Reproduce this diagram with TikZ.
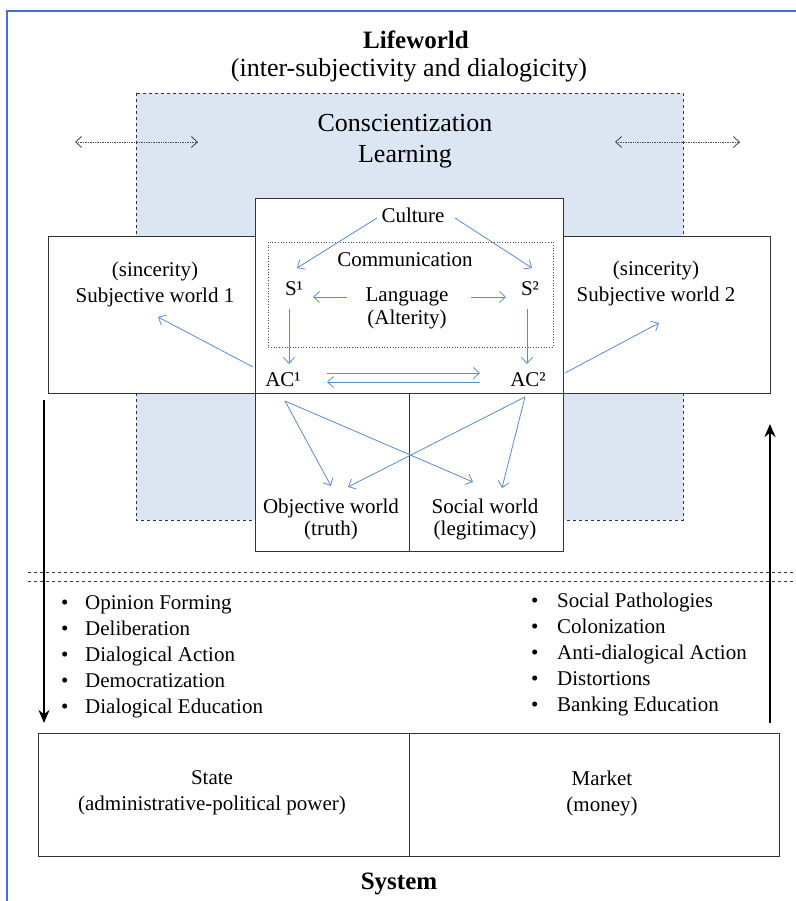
\documentclass[tikz,border=0pt]{standalone}
\usepackage{fontspec}
\setmainfont{Liberation Serif}
\usetikzlibrary{arrows.meta, positioning}

\definecolor{lifeblue}{RGB}{220,230,242}
\definecolor{flowblue}{RGB}{92,139,204}
\definecolor{frameblue}{RGB}{68,114,196}

\tikzset{
  txt/.style={font=\fontsize{21}{23}\selectfont, align=center, inner sep=1pt},
  two/.style={txt, font=\fontsize{21}{26}\selectfont},
  head/.style={font=\bfseries\fontsize{25}{28}\selectfont, inner sep=1pt},
  wbox/.style={draw=black!80, fill=white, line width=0.9pt},
  flow/.style={draw=flowblue, line width=0.8pt, -{Straight Barb[length=6pt,width=11pt]}},
  swing/.style={draw=black!70, densely dotted, line width=0.7pt,
    {Straight Barb[length=6pt,width=11pt,line width=0.9pt]}-{Straight Barb[length=6pt,width=11pt,line width=0.9pt]}},
  force/.style={draw=black, line width=2.8pt, -{Stealth[length=13pt,width=11pt]}},
  item/.style={font=\fontsize{21}{23}\selectfont, inner sep=1pt, anchor=base west}
}

\begin{document}
\begin{tikzpicture}[x=1pt, y=-1pt]
  \useasboundingbox (0,0) rectangle (795,901);
  % frame
  \draw[frameblue, line width=1.2pt] (7,901) -- (7,11) -- (800,11);

  % lifeworld area
  \draw[fill=lifeblue, draw=black!80, dashed, line width=0.7pt] (136,93) rectangle (683,520);
  \draw[wbox] (48,236) rectangle (255,393);
  \draw[wbox] (563,236) rectangle (770,393);
  \draw[wbox] (255,198) rectangle (563,393);
  \draw[wbox] (255,393) rectangle (409,551);
  \draw[wbox] (409,393) rectangle (563,551);
  \draw[black!70, dotted, line width=0.7pt] (268,242) rectangle (553,347);

  \node[head] (life) at (416,40) {Lifeworld};
  \node[txt, font=\fontsize{26}{29}\selectfont] (inter) at (409,70) {(inter-subjectivity and dialogicity)};
  \node[txt, font=\fontsize{26}{31}\selectfont] (consc) at (405,141) {Conscientization\\Learning};

  \coordinate (sl1) at (75,142);
  \coordinate (sl2) at (198,142);
  \coordinate (sr1) at (615,142);
  \coordinate (sr2) at (740,142);
  \draw[swing] (sl1) -- (sl2);
  \draw[swing] (sr1) -- (sr2);

  \node[txt] (cult) at (413,215) {Culture};
  \node[txt] (comm) at (405,260) {Communication};
  \node[txt] (s1) at (294,289) {S¹};
  \node[txt] (s2) at (530,289) {S²};
  \node[txt] (lang) at (407,308) {Language\\(Alterity)};
  \node[txt] (ac1) at (283,380) {AC¹};
  \node[txt] (ac2) at (528,380) {AC²};
  \node[two] (sub1) at (155,284) {(sincerity)\\Subjective world 1};
  \node[two] (sub2) at (656,283) {(sincerity)\\Subjective world 2};
  \node[txt, font=\fontsize{21}{22}\selectfont] (obj) at (331,519) {Objective world\\(truth)};
  \node[txt, font=\fontsize{21}{22}\selectfont] (soc) at (485,519) {Social world\\(legitimacy)};

  \draw[flow] ([shift={(-36,3)}]cult.center) -- ([shift={(3,-21)}]s1.center);
  \draw[flow] ([shift={(42,3)}]cult.center) -- ([shift={(2,-21)}]s2.center);
  \draw[flow] ([shift={(-60,-11)}]lang.center) -- ([shift={(19,8)}]s1.center);
  \draw[flow] ([shift={(64,-11)}]lang.center) -- ([shift={(-24,8)}]s2.center);
  \draw[flow] ([shift={(-5,20)}]s1.center) -- ([shift={(6,-16)}]ac1.center);
  \draw[flow] ([shift={(-3,20)}]s2.center) -- ([shift={(-1,-16)}]ac2.center);
  \draw[flow] ([shift={(44,-7)}]ac1.center) -- ([shift={(-48,-7)}]ac2.center);
  \draw[flow] ([shift={(-48,2)}]ac2.center) -- ([shift={(44,2)}]ac1.center);
  \draw[flow] ([shift={(-30,-13)}]ac1.center) -- ([shift={(3,33)}]sub1.center);
  \draw[flow] ([shift={(37,-7)}]ac2.center) -- ([shift={(3,40)}]sub2.center);
  \draw[flow] ([shift={(2,21)}]ac1.center) -- ([shift={(0,-33)}]obj.center);
  \draw[flow] ([shift={(2,21)}]ac1.center) -- ([shift={(-12,-37)}]soc.center);
  \draw[flow] ([shift={(-3,17)}]ac2.center) -- ([shift={(17,-32)}]obj.center);
  \draw[flow] ([shift={(-3,17)}]ac2.center) -- ([shift={(17,-31)}]soc.center);

  % boundary between lifeworld and system
  \draw[black!80, dashed, line width=0.7pt] (28,572) -- (795,572);
  \draw[black!80, dashed, line width=0.7pt] (28,581) -- (795,581);

  \coordinate (dn1) at (44,400);
  \coordinate (dn2) at (44,723);
  \coordinate (up1) at (770,723);
  \coordinate (up2) at (770,424);
  \draw[force] (dn1) -- (dn2);
  \draw[force] (up1) -- (up2);

  \foreach \t [count=\i] in {Opinion Forming, Deliberation, Dialogical Action, Democratization, Dialogical Education}
    \node[item] (pro\i) at (60,{609+26*(\i-1)}) {\makebox[24pt][l]{\textbullet}\t};
  \foreach \t [count=\i] in {Social Pathologies, Colonization, Anti-dialogical Action, Distortions, Banking Education}
    \node[item] (con\i) at (530,{607+26*(\i-1)}) {\makebox[26pt][l]{\textbullet}\t};

  % system
  \draw[wbox] (38,733) rectangle (409,856);
  \draw[wbox] (409,733) rectangle (779,856);
  \node[two] (state) at (212,793) {State\\(administrative-political power)};
  \node[two] (market) at (602,793) {Market\\(money)};
  \node[head] (sys) at (399,884) {System};
\end{tikzpicture}
\end{document}
